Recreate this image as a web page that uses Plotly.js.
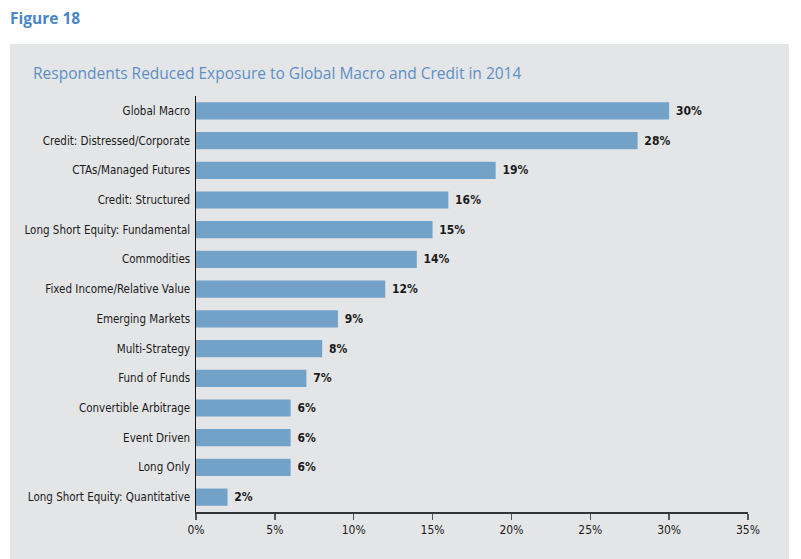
<!DOCTYPE html>
<html><head><meta charset="utf-8">
<script src="https://cdn.plot.ly/plotly-3.0.1.min.js"></script>
<style>html,body{margin:0;padding:0;background:#fff;}#chart{width:801px;height:559px;}</style>
</head><body><div id="chart"></div>
<script>
var categories = ["Global Macro","Credit: Distressed/Corporate","CTAs/Managed Futures","Credit: Structured","Long Short Equity: Fundamental","Commodities","Fixed Income/Relative Value","Emerging Markets","Multi-Strategy","Fund of Funds","Convertible Arbitrage","Event Driven","Long Only","Long Short Equity: Quantitative"];
var values = [30,28,19,16,15,14,12,9,8,7,6,6,6,2];
var tickVals = [0,5,10,15,20,25,30,35];
var tickText = ["0%","5%","10%","15%","20%","25%","30%","35%"];

var narrow = "'DejaVu Sans Condensed', 'Liberation Sans Narrow', sans-serif";
var L = 196, R = 53, T = 96, B = 47, W = 801, H = 559;
var pw = W - L - R, ph = H - T - B;
function px(x){return (x - L)/pw;}
function py(y){return (H - B - y)/ph;}

var trace = {
  type: 'bar', orientation: 'h',
  y: categories, x: values,
  marker: {color: '#73a2c9', line: {width: 0}},
  text: values.map(function(v){return '\u00a0' + v + '%';}),
  textposition: 'outside',
  textfont: {family: narrow, size: 12, color: '#1a1a1a', weight: 'bold'},
  cliponaxis: false,
  hoverinfo: 'none'
};

var layout = {
  width: W, height: H,
  margin: {l: L, r: R, t: T, b: B, pad: 0},
  paper_bgcolor: '#ffffff',
  plot_bgcolor: 'rgba(0,0,0,0)',
  bargap: 0.42,
  showlegend: false,
  xaxis: {
    range: [0, 35], tickvals: tickVals, ticktext: tickText,
    showgrid: false, zeroline: false,
    showline: true, linecolor: '#333', linewidth: 1.5,
    ticks: 'outside', ticklen: 6, tickcolor: '#555', tickwidth: 1.5,
    tickfont: {family: narrow, size: 12, color: '#1a1a1a'},
    fixedrange: true
  },
  yaxis: {
    autorange: 'reversed', type: 'category',
    showgrid: false, zeroline: false,
    showline: true, linecolor: '#111', linewidth: 1.5,
    ticks: '', ticklabelstandoff: 2,
    tickfont: {family: narrow, size: 11.5, color: '#1a1a1a'},
    fixedrange: true
  },
  shapes: [{
    type: 'rect', xref: 'paper', yref: 'paper', layer: 'below',
    x0: px(10), x1: px(789), y0: py(559), y1: py(44),
    fillcolor: '#e4e5e7', line: {width: 0}
  }],
  annotations: [
    {xref: 'paper', yref: 'paper', x: px(10), y: py(18), xanchor: 'left', yanchor: 'middle', xshift: -2,
     text: '<b>Figure 18</b>', showarrow: false,
     font: {family: "'Open Sans', 'Noto Sans', sans-serif", size: 15.5, color: '#4a86c5'}},
    {xref: 'paper', yref: 'paper', x: px(33), y: py(73), xanchor: 'left', yanchor: 'middle', xshift: -2,
     text: 'Respondents Reduced Exposure to Global Macro and Credit in 2014', showarrow: false,
     font: {family: "'Open Sans', 'Noto Sans', sans-serif", size: 15.5, color: '#5b8fc6'}}
  ]
};

Plotly.newPlot('chart', [trace], layout, {displayModeBar: false, staticPlot: true});
</script></body></html>
